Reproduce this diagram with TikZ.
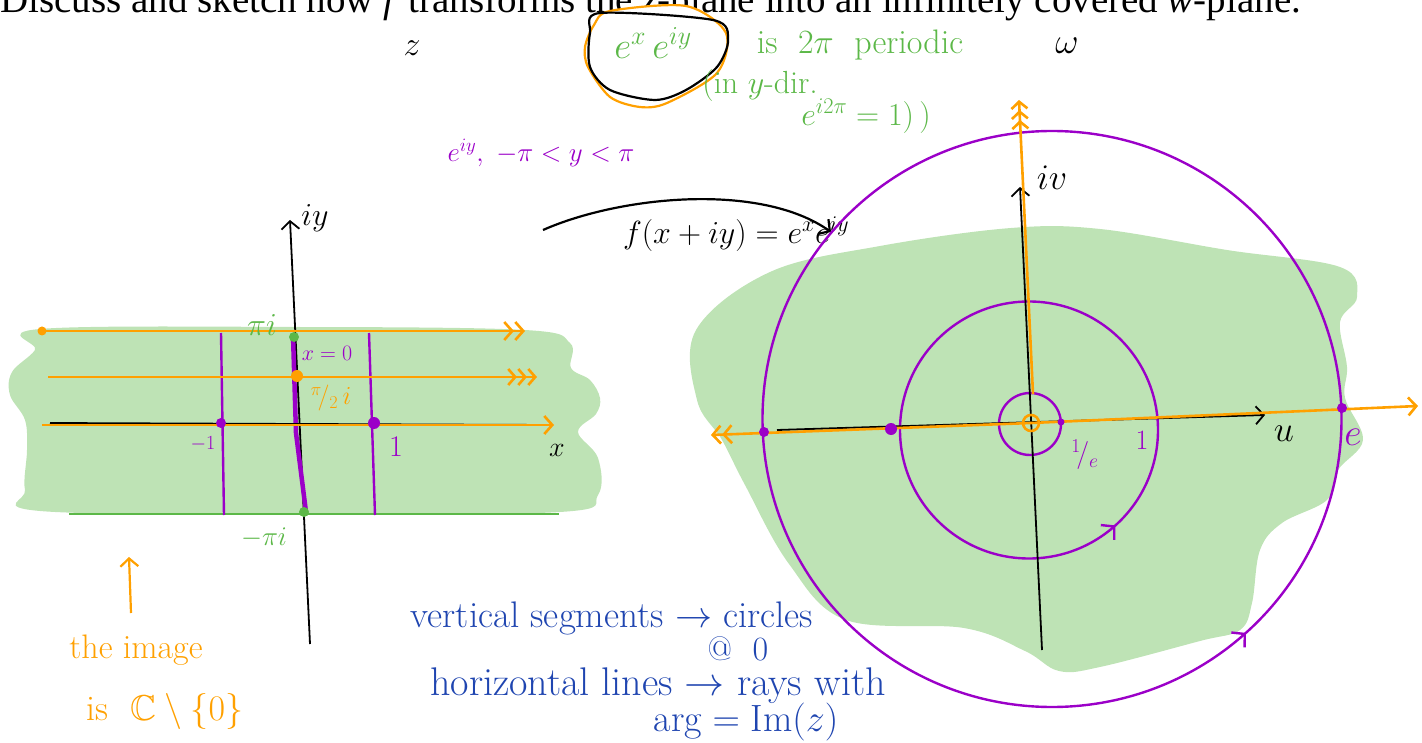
\RequirePackage{fix-cm}
\documentclass[tikz,border=0pt]{standalone}
\usepackage{amsmath,amssymb}
\usepackage{fontspec}
\newfontfamily\titlefont{Liberation Serif}
\usetikzlibrary{arrows.meta,decorations.markings}
\definecolor{skorange}{HTML}{FFA000}
\definecolor{skpurple}{HTML}{9B00C8}
\definecolor{skgreen}{HTML}{5CB848}
\definecolor{skshade}{HTML}{BEE3B5}
\definecolor{skblue}{HTML}{1F45B0}

\newcommand{\fsz}[1]{\fontsize{#1}{#1}\selectfont}

\begin{document}
\begin{tikzpicture}[
    x=1pt,
    y=-1pt,
    lbl/.style={inner sep=0pt},
    axis/.style={line width=1.8pt, draw=black},
    ray/.style={line width=2.6pt, draw=skorange},
    seg/.style={line width=2.4pt, draw=skpurple},
    barb1/.style={-{Straight Barb[length=8pt,width=18pt]}},
    barb2/.style={-{Straight Barb[length=8pt,width=18pt]Straight Barb[length=8pt,width=18pt]}},
    barb3/.style={-{Straight Barb[length=7pt,width=16pt]Straight Barb[length=7pt,width=16pt]Straight Barb[length=7pt,width=16pt]}},
    orbit/.style={seg, postaction={decorate}, decoration={markings,
        mark=at position 0.133 with {\arrowreversed{Straight Barb[length=9pt,width=20pt]}}}}
  ]
    \useasboundingbox (0,0) rectangle (1422,743);

    % shaded regions
    \fill[skshade] plot[smooth cycle, tension=0.6] coordinates {(40,329) (300,327) (525,330) (570,343) (571,368) (590,380) (600,398) (596,414) (578,432) (598,458) (598,495) (560,512) (300,514) (40,511) (25,490) (27,450) (25,420) (10,395) (12,372) (35,350)};
    \fill[skshade] plot[smooth cycle, tension=0.6] coordinates {(770,272) (880,246) (1011,228) (1100,229) (1227,250) (1340,267) (1357,297) (1340,322) (1347,367) (1345,398) (1363,440) (1338,470) (1327,500) (1282,523) (1260,550) (1252,603) (1240,630) (1200,641) (1100,667) (1059,671) (1025,651) (964,628) (846,620) (789,564) (745,485) (722,440) (697,400) (696,330)};

    % title line
    \node[lbl, anchor=base west, font={\titlefont\fsz{39}}] (title) at (0,13)
      {Discuss and sketch how \textit{f} transforms the \textit{z}-plane into an infinitely covered \textit{w}-plane.};

    % circled factor
    \draw[line width=2.2pt, draw=skorange, fill=white] plot[smooth cycle] coordinates {(610,11) (686,6) (726,33) (717,73) (667,103) (640,107) (610,97) (588,67) (585,47) (594,25)};
    \draw[line width=2.2pt, draw=black] plot[smooth cycle] coordinates {(600,13) (713,20) (728,40) (717,67) (686,90) (655,100) (610,90) (590,67) (590,33)};
    \node[lbl, text=skgreen, font=\fsz{37}] (fac) at (653,43) {$e^{x}\,e^{iy}$};
    \node[lbl, text=skgreen, font=\fsz{34}] (per) at (860,45) {is \ $2\pi$ \ periodic};
    \node[lbl, text=skgreen, font=\fsz{32}] (dir) at (760,86) {(in $y$-dir.};
    \node[lbl, text=skgreen, font=\fsz{32}] (one) at (866,116) {$e^{i2\pi}=1)\,)$};

    \node[lbl, font=\fsz{34}] (zlab) at (412,48) {$z$};
    \node[lbl, font=\fsz{36}] (wlab) at (1067,46) {$\omega$};

    \node[lbl, text=skpurple, font=\fsz{27}] (arg) at (541,153) {$e^{iy},\ -\pi<y<\pi$};

    % the map
    \coordinate (fs) at (543,230);
    \coordinate (fe) at (831,232);
    \draw[line width=2.2pt, barb1] (fs) .. controls (620,196) and (760,182) .. (fe);
    \node[lbl, font=\fsz{32}] (fmap) at (736,234) {$f(x+iy)=e^{x}e^{iy}$};

    % z-plane
    \coordinate (zyb) at (310,644);
    \coordinate (zyt) at (290,220);
    \coordinate (zxb) at (50,423);
    \coordinate (zxt) at (552,425);
    \coordinate (l1s) at (42,331);
    \coordinate (l1e) at (525,331);
    \coordinate (l2s) at (48,377);
    \coordinate (l2e) at (537,377);
    \coordinate (l3s) at (42,425);
    \coordinate (l3e) at (554,425);
    \coordinate (gls) at (69,514);
    \coordinate (gle) at (559,514);
    \coordinate (v1t) at (221,333);
    \coordinate (v1b) at (224,515);
    \coordinate (v2t) at (369,333);
    \coordinate (v2b) at (375,515);
    \coordinate (v0t) at (293,335);
    \coordinate (v0m) at (296,433);
    \coordinate (v0b) at (306,512);

    \draw[line width=2.6pt, draw=skgreen] (gls) -- (gle);
    \draw[seg] (v1t) -- (v1b);
    \draw[seg] (v2t) -- (v2b);
    \draw[axis, barb1] (zyb) -- (zyt);
    \draw[seg, line width=4.5pt] (v0t) -- (v0m) -- (v0b);
    \draw[axis] (zxb) -- (zxt);
    \draw[ray, barb2] (l1s) -- (l1e);
    \draw[ray, barb3] (l2s) -- (l2e);
    \draw[ray, barb1] (l3s) -- (l3e);
    \fill[skorange] (l1s) circle (4.5);
    \fill[skpurple] (221,423) circle (5);
    \fill[skpurple] (374,423) circle (6);
    \fill[skorange] (297,376) circle (6);
    \fill[skgreen] (294,337) circle (5);
    \fill[skgreen] (304,512) circle (5);

    \node[lbl, font=\fsz{32}] (iy) at (315,218) {$iy$};
    \node[lbl, font=\fsz{28}] (xl) at (557,450) {$x$};
    \node[lbl, text=skgreen, font=\fsz{32}] (pii) at (262,325) {$\pi i$};
    \node[lbl, text=skpurple, font=\fsz{22}] (x0) at (327,353) {$x=0$};
    \node[lbl, text=skorange, font=\fsz{26}] (pih) at (331,398) {$^{\pi}\!/_{2}\,i$};
    \node[lbl, text=skpurple, font=\fsz{20}] (m1) at (203,444) {$-1$};
    \node[lbl, text=skpurple, font=\fsz{30}] (p1) at (396,447) {$1$};
    \node[lbl, text=skgreen, font=\fsz{27}] (mpii) at (264,538) {$-\pi i$};

    % image note
    \coordinate (ia) at (131,613);
    \coordinate (ib) at (129,557);
    \draw[line width=2.2pt, draw=skorange, barb1] (ia) -- (ib);
    \node[lbl, text=skorange, font=\fsz{34}] (img) at (136,650) {the image};
    \node[lbl, text=skorange, font=\fsz{36}] (imgC) at (165,711) {is \ $\mathbb{C}\setminus\{0\}$};

    % w-plane
    \coordinate (wO) at (1031,423);
    \coordinate (wvb) at (1042,650);
    \coordinate (wvt) at (1020,187);
    \coordinate (wub) at (777,430);
    \coordinate (wut) at (1265,415);
    \coordinate (rup0) at (1033,394);
    \coordinate (rup) at (1019,100);
    \coordinate (rrt) at (1418,406);
    \coordinate (rlt) at (711,435);

    \draw[orbit] (1052,419) ellipse [x radius=289.5, y radius=288];
    \draw[orbit] (1029,430) ellipse [x radius=129, y radius=128.5];
    \draw[seg] (1030,424) circle (31);
    \draw[axis, barb1] (wvb) -- (wvt);
    \draw[axis, barb1] (wub) -- (wut);
    \draw[ray, barb3] (rup0) -- (rup);
    \draw[ray, barb1] (wO) -- (rrt);
    \draw[ray, barb2] (wO) -- (rlt);
    \draw[ray] (wO) circle (8);
    \fill[skpurple] (764,432) circle (5);
    \fill[skpurple] (891,429) circle (6);
    \fill[skpurple] (1342,408) circle (5);
    \fill[skpurple] (1061,422) circle (3.5);

    \node[lbl, font=\fsz{36}] (iv) at (1052,178) {$iv$};
    \node[lbl, font=\fsz{36}] (ul) at (1284,434) {$u$};
    \node[lbl, text=skpurple, font=\fsz{28}] (einv) at (1085,455) {$^{1}\!/_{e}$};
    \node[lbl, text=skpurple, font=\fsz{28}] (w1) at (1142,440) {$1$};
    \node[lbl, text=skpurple, font=\fsz{38}] (we) at (1353,437) {$e$};

    % summary
    \node[lbl, text=skblue, font=\fsz{37}] (n1) at (612,618) {vertical segments $\to$ circles};
    \node[lbl, text=skblue, font=\fsz{34}] (n2) at (738,649) {@ \ $0$};
    \node[lbl, text=skblue, font=\fsz{40}] (n3) at (658,686) {horizontal lines $\to$ rays with};
    \node[lbl, text=skblue, font=\fsz{38}] (n4) at (746,722) {$\arg=\operatorname{Im}(z)$};
  \end{tikzpicture}
\end{document}
